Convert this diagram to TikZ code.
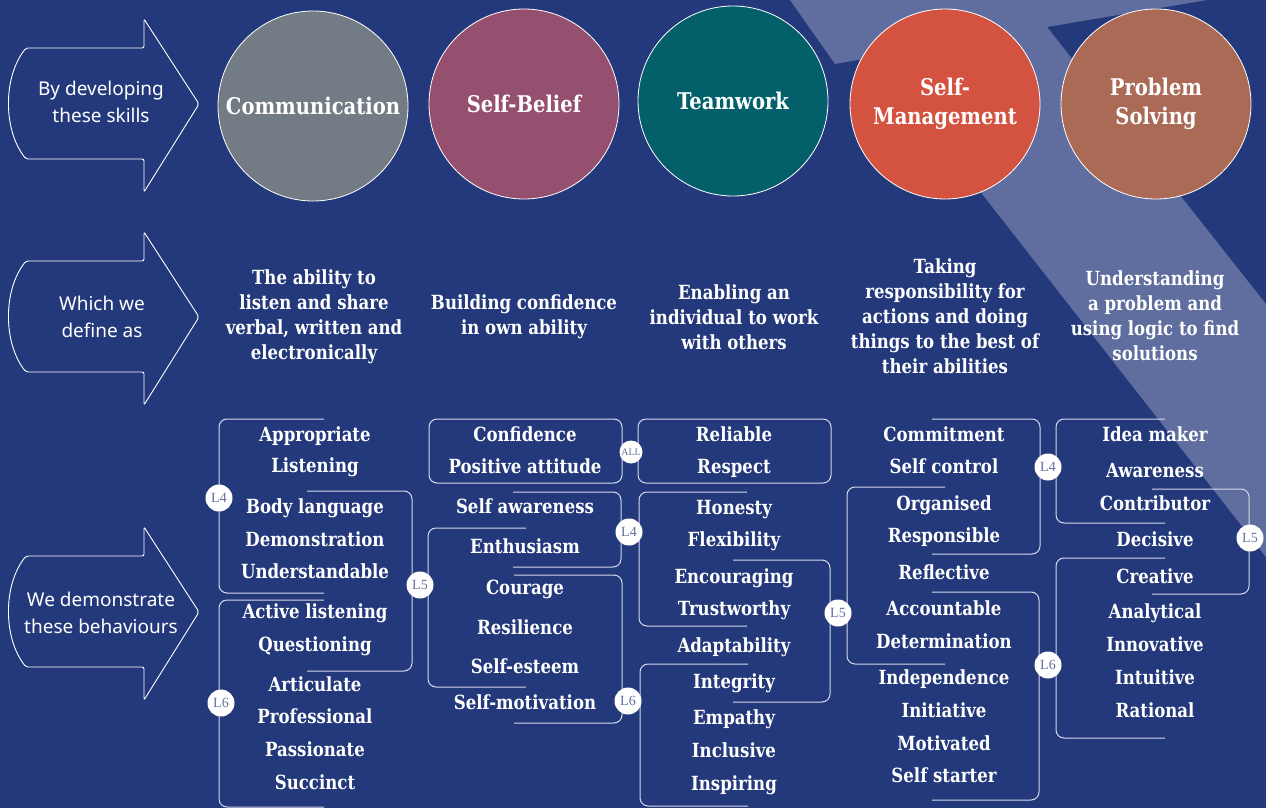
\documentclass[tikz,border=0pt]{standalone}
\usepackage{fontspec}
\setmainfont{DejaVu Serif}[FakeStretch=0.85]
\newfontfamily\hand{Noto Sans}
\newfontfamily\badgefont{Liberation Serif}
\definecolor{bg}{RGB}{36,57,123}
\definecolor{commcol}{RGB}{115,124,132}
\definecolor{sbcol}{RGB}{149,80,111}
\definecolor{twcol}{RGB}{3,96,106}
\definecolor{smcol}{RGB}{212,82,64}
\definecolor{pscol}{RGB}{170,106,85}
\definecolor{brcol}{RGB}{214,218,234}
\definecolor{badgetext}{RGB}{100,112,160}
\tikzset{
  skill/.style={circle, draw=white, line width=0.8pt, minimum size=190pt, inner sep=0pt,
    text=white, align=center, font=\bfseries\fontsize{23}{29}\selectfont},
  defn/.style={text=white, align=center, font=\bfseries\fontsize{19.5}{25}\selectfont},
  item/.style={text=white, font=\bfseries\fontsize{19.5}{20}\selectfont,
    text height=14pt, text depth=4pt, inner sep=0pt},
  handtxt/.style={text=white, align=center, font=\hand\fontsize{19}{27}\selectfont},
  arrowline/.style={draw=white, line width=0.9pt, rounded corners=2pt},
  br/.style={draw=brcol, line width=1pt, rounded corners=8pt},
  badge/.style={circle, fill=white, inner sep=0pt, minimum size=27pt, text=badgetext,
    font=\badgefont\fontsize{14}{14}\selectfont},
  allbadge/.style={badge, minimum size=23pt, font=\badgefont\fontsize{10}{10}\selectfont},
}
\newcommand\leftarrowshape[1]{%
  \draw[arrowline] (26,{#1+55}) .. controls (3,{#1+26}) and (3,{#1-27}) .. (26,{#1-56})
    -- (144,{#1-56}) -- (144,{#1-85}) -- (199,#1) -- (144,{#1+88}) -- (144,{#1+55}) -- cycle;}
\begin{document}
\begin{tikzpicture}[x=1pt,y=-1pt]
\useasboundingbox (0,0) rectangle (1266,808);
\fill[bg] (0,0) rectangle (1266,808);
% light tick shape in the background
\fill[white, opacity=0.27] (790,0) -- (1207,0) -- (1047,27) -- (1266,304) -- (1266,557)
  -- (875,57) -- (835,64) -- cycle;

% left arrows
\leftarrowshape{104}
\leftarrowshape{317}
\leftarrowshape{612}
\node[handtxt] (a1) at (101,102) {By developing\\these skills};
\node[handtxt] (a2) at (102,317) {Which we\\define as};
\node[handtxt] (a3) at (101,613) {We demonstrate\\these behaviours};

% skill circles
\node[skill, fill=commcol] (comm) at (313,106) {Communication};
\node[skill, fill=sbcol] (sb) at (524,104) {Self-Belief};
\node[skill, fill=twcol] (tw) at (733,101) {Teamwork};
\node[skill, fill=smcol] (sm) at (945,104) {Self-\\Management};
\node[skill, fill=pscol] (ps) at (1156,104) {Problem\\Solving};

% definitions
\node[defn] (d1) at (314,317) {The ability to\\listen and share\\verbal, written and\\electronically};
\node[defn] (d2) at (524,317) {Building confidence\\in own ability};
\node[defn] (d3) at (734,317) {Enabling an\\individual to work\\with others};
\node[defn] (d4) at (945,316) {Taking\\responsibility for\\actions and doing\\things to the best of\\their abilities};
\node[defn] (d5) at (1155,316) {Understanding\\a problem and\\using logic to find\\solutions};

% brackets: Communication
\draw[br] (324,419) -- (219,419) -- (219,593) -- (324,593);
\draw[br] (307,491) -- (412,491) -- (412,671) -- (307,671);
\draw[br] (324,600) -- (219,600) -- (219,807) -- (324,807);
% Self-Belief
\draw[br] (429,419) rectangle (622,483);
\draw[br] (513,492) -- (621,492) -- (621,567) -- (513,567);
\draw[br] (526,528) -- (428,528) -- (428,687) -- (526,687);
\draw[br] (514,575) -- (622,575) -- (622,723) -- (514,723);
% Teamwork
\draw[br] (638,419) rectangle (831,483);
\draw[br] (747,492) -- (639,492) -- (639,626) -- (747,626);
\draw[br] (733,560) -- (830,560) -- (830,702) -- (733,702);
\draw[br] (748,664) -- (640,664) -- (640,806) -- (748,806);
% Self-Management
\draw[br] (932,419) -- (1040,419) -- (1040,554) -- (932,554);
\draw[br] (945,487) -- (847,487) -- (847,664) -- (945,664);
\draw[br] (932,592) -- (1039,592) -- (1039,800) -- (932,800);
% Problem Solving
\draw[br] (1165,419) -- (1056,419) -- (1056,523) -- (1165,523);
\draw[br] (1152,489) -- (1249,489) -- (1249,594) -- (1152,594);
\draw[br] (1165,558) -- (1056,558) -- (1056,738) -- (1165,738);

% badges
\node[badge] (b1) at (219,498) {L4};
\node[badge] (b2) at (420,585) {L5};
\node[badge] (b3) at (221,703) {L6};
\node[allbadge] (b4) at (631,452) {ALL};
\node[badge] (b5) at (629,532) {L4};
\node[badge] (b6) at (628,701) {L6};
\node[badge] (b7) at (838,613) {L5};
\node[badge] (b8) at (1048,467) {L4};
\node[badge] (b9) at (1048,665) {L6};
\node[badge] (b10) at (1250,538) {L5};

% behaviours
\foreach \t/\y [count=\i] in {Appropriate/436, Listening/467, Body language/508,
  Demonstration/541, Understandable/573, Active listening/613, Questioning/646,
  Articulate/686, Professional/718, Passionate/751, Succinct/784}
  \node[item] (c\i) at (315,\y) {\t};
\foreach \t/\y [count=\i] in {Confidence/436, Positive attitude/468, Self awareness/508,
  Enthusiasm/548, Courage/589, Resilience/629, Self-esteem/668, Self-motivation/704}
  \node[item] (s\i) at (525,\y) {\t};
\foreach \t/\y [count=\i] in {Reliable/436, Respect/468, Honesty/509, Flexibility/541,
  Encouraging/578, Trustworthy/610, Adaptability/647, Integrity/683, Empathy/719,
  Inclusive/752, Inspiring/785}
  \node[item] (t\i) at (734,\y) {\t};
\foreach \t/\y [count=\i] in {Commitment/436, Self control/468, Organised/505,
  Responsible/537, Reflective/574, Accountable/610, Determination/643,
  Independence/679, Initiative/712, Motivated/745, Self starter/777}
  \node[item] (m\i) at (944,\y) {\t};
\foreach \t/\y [count=\i] in {Idea maker/436, Awareness/472, Contributor/505,
  Decisive/541, Creative/578, Analytical/613, Innovative/646, Intuitive/679,
  Rational/712}
  \node[item] (p\i) at (1155,\y) {\t};
\end{tikzpicture}
\end{document}
